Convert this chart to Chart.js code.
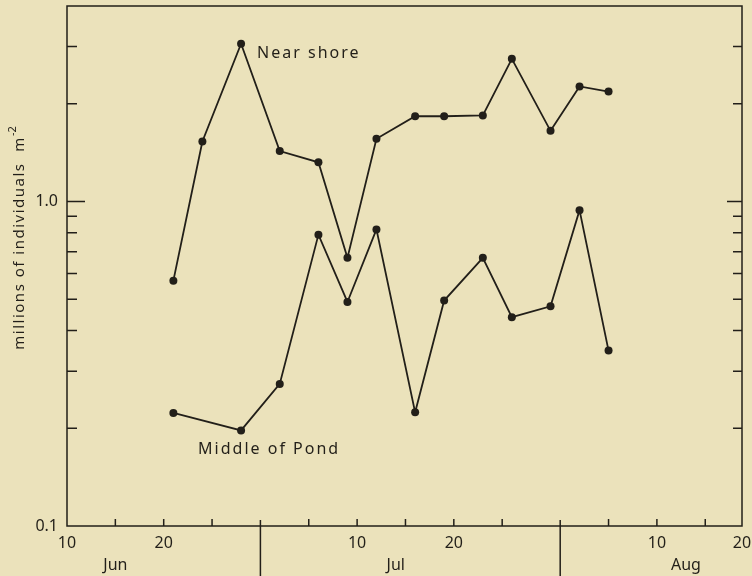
<!DOCTYPE html>
<html lang="en">
<head>
<meta charset="UTF-8">
<title>Near shore / Middle of Pond</title>
<script src="https://cdn.jsdelivr.net/npm/chart.js"></script>
<style>
  html, body { margin: 0; padding: 0; background: #ebe2bb; overflow: hidden; }
  canvas { display: block; }
</style>
</head>
<body>
<canvas id="pondChart" width="752" height="576"></canvas>
<script>
// sampling dates, counted in days from 31 May (Jun 21 = 21, Jul 1 = 31, Aug 1 = 62)
const sampleDays = [21, 24, 28, 32, 36, 39, 42, 46, 49, 53, 56, 60, 63, 66];
// millions of individuals per m2
const nearShore = [0.57, 1.53, 3.06, 1.43, 1.32, 0.67, 1.56, 1.83, 1.83, 1.84, 2.75, 1.65, 2.26, 2.18];
const middleOfPond = [0.223, null, 0.197, 0.274, 0.79, 0.49, 0.82, 0.224, 0.495, 0.67, 0.44, 0.475, 0.94, 0.347];
const seriesNames = ['Near shore', 'Middle of Pond'];

// axis ticks
const yLabelTicks = [0.1, 1];
const yMinorTicks = [0.2, 0.3, 0.4, 0.5, 0.6, 0.7, 0.8, 0.9, 2, 3];
const xLabelDays = [10, 15, 20, 40, 44, 50, 71, 74, 79.8];
const xLabels = ['10', ['', 'Jun'], '20', '10', ['', 'Jul'], '20', '10', ['', 'Aug'], '20'];
const xMinorDays = [15, 20, 25, 35, 40, 45, 50, 55, 66, 71, 76];
const monthEdges = [30, 61];

const ink = '#221f19';
const font = '"Noto Sans", sans-serif';

const decorations = {
  id: 'decorations',
  beforeDatasetsDraw(chart) {
    const { ctx, chartArea: a, scales: { x, y } } = chart;
    ctx.save();
    ctx.strokeStyle = ink;
    ctx.lineWidth = 1.5;
    ctx.strokeRect(a.left, a.top, a.right - a.left, a.bottom - a.top);

    ctx.beginPath();
    yMinorTicks.forEach(v => {
      const py = y.getPixelForValue(v);
      ctx.moveTo(a.left, py); ctx.lineTo(a.left + 10, py);
      ctx.moveTo(a.right, py); ctx.lineTo(a.right - 9, py);
    });
    const p1 = y.getPixelForValue(1);
    ctx.moveTo(a.left, p1); ctx.lineTo(a.left + 18, p1);
    ctx.moveTo(a.right, p1); ctx.lineTo(a.right - 15, p1);

    xMinorDays.forEach(d => {
      const px = x.getPixelForValue(d);
      ctx.moveTo(px, a.bottom); ctx.lineTo(px, a.bottom - 7);
    });
    monthEdges.forEach(d => {
      const px = x.getPixelForValue(d);
      ctx.moveTo(px, a.bottom - 6); ctx.lineTo(px, chart.height);
    });
    ctx.stroke();
    ctx.restore();
  },
  afterDraw(chart) {
    const { ctx } = chart;
    ctx.save();
    ctx.fillStyle = ink;
    ctx.letterSpacing = '2px';
    ctx.font = '16px ' + font;
    ctx.textBaseline = 'middle';

    const top = chart.getDatasetMeta(0).data[2];
    ctx.fillText(seriesNames[0], top.x + 16, top.y + 10);
    const low = chart.getDatasetMeta(1).data[2];
    ctx.fillText(seriesNames[1], low.x - 43, low.y + 19);

    // y axis title, rotated, with superscript
    ctx.translate(20, 238);
    ctx.rotate(-Math.PI / 2);
    ctx.font = '15px ' + font;
    ctx.letterSpacing = '1.5px';
    const main = 'millions of individuals  m';
    const w1 = ctx.measureText(main).width;
    ctx.font = '11px ' + font;
    ctx.letterSpacing = '0px';
    const w2 = ctx.measureText('-2').width;
    const start = -(w1 + w2) / 2;
    ctx.font = '15px ' + font;
    ctx.letterSpacing = '1.5px';
    ctx.fillText(main, start, 0);
    ctx.font = '11px ' + font;
    ctx.letterSpacing = '0px';
    ctx.fillText('-2', start + w1, -7);
    ctx.restore();
  }
};

new Chart(document.getElementById('pondChart'), {
  type: 'line',
  data: {
    datasets: [
      {
        label: seriesNames[0],
        data: sampleDays.map((d, i) => ({ x: d, y: nearShore[i] }))
      },
      {
        label: seriesNames[1],
        data: sampleDays.map((d, i) => ({ x: d, y: middleOfPond[i] })),
        spanGaps: true
      }
    ]
  },
  options: {
    responsive: false,
    animation: false,
    layout: { padding: { top: 6, right: 10, left: 0, bottom: 0 } },
    elements: {
      line: { borderColor: ink, borderWidth: 1.8, tension: 0 },
      point: { radius: 4, backgroundColor: ink, borderColor: ink, borderWidth: 0 }
    },
    plugins: { legend: { display: false }, tooltip: { enabled: false } },
    scales: {
      x: {
        type: 'linear',
        min: 10,
        max: 79.8,
        grid: { display: false, drawTicks: false },
        border: { display: false },
        afterBuildTicks: s => { s.ticks = xLabelDays.map(v => ({ value: v })); },
        afterFit: s => { s.height = 50; s.paddingLeft = 0; s.paddingRight = 0; },
        ticks: {
          autoSkip: false,
          maxRotation: 0,
          padding: 6,
          color: ink,
          font: { family: font, size: 16, lineHeight: 1.4 },
          callback: (v, i) => xLabels[i]
        }
      },
      y: {
        type: 'logarithmic',
        min: 0.1,
        max: 4,
        grid: { display: false, drawTicks: false },
        border: { display: false },
        afterBuildTicks: s => { s.ticks = yLabelTicks.map(v => ({ value: v })); },
        afterFit: s => { s.width = 67; s.paddingTop = 0; s.paddingBottom = 0; },
        ticks: {
          padding: 9,
          color: ink,
          font: { family: font, size: 16 },
          callback: v => v.toFixed(1)
        }
      }
    }
  },
  plugins: [decorations]
});
</script>
</body>
</html>
